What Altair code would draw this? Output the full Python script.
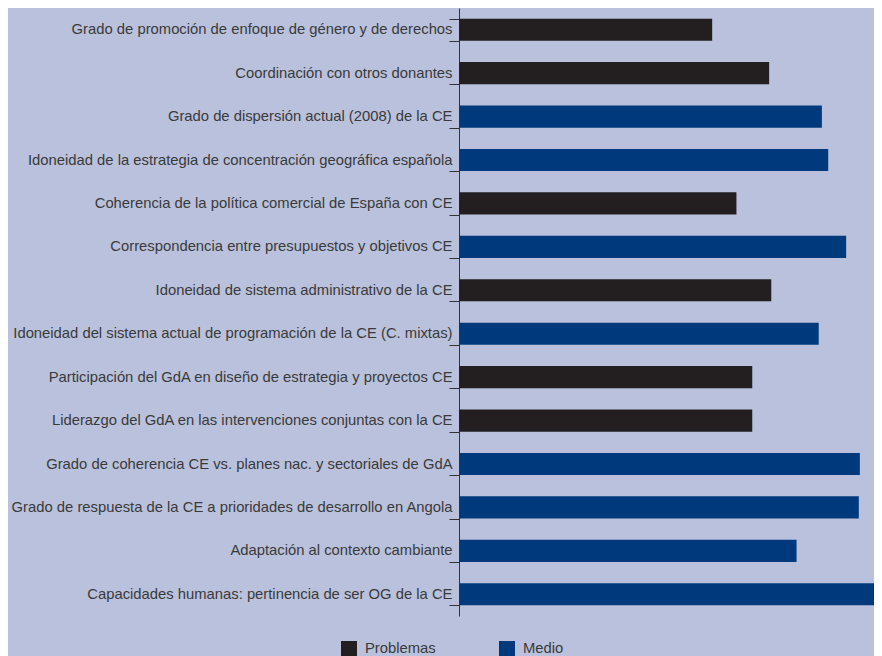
import altair as alt
import pandas as pd

categories = [
    "Grado de promoción de enfoque de género y de derechos",
    "Coordinación con otros donantes",
    "Grado de dispersión actual (2008) de la CE",
    "Idoneidad de la estrategia de concentración geográfica española",
    "Coherencia de la política comercial de España con CE",
    "Correspondencia entre presupuestos y objetivos CE",
    "Idoneidad de sistema administrativo de la CE",
    "Idoneidad del sistema actual de programación de la CE (C. mixtas)",
    "Participación del GdA en diseño de estrategia y proyectos CE",
    "Liderazgo del GdA en las intervenciones conjuntas con la CE",
    "Grado de coherencia CE vs. planes nac. y sectoriales de GdA",
    "Grado de respuesta de la CE a prioridades de desarrollo en Angola",
    "Adaptación al contexto cambiante",
    "Capacidades humanas: pertinencia de ser OG de la CE",
]
values = [2.40, 2.94, 3.44, 3.50, 2.63, 3.67, 2.96, 3.41, 2.78, 2.78, 3.80, 3.79, 3.20, 4.00]
groups = ["Problemas", "Problemas", "Medio", "Medio", "Problemas", "Medio", "Problemas",
          "Medio", "Problemas", "Problemas", "Medio", "Medio", "Medio", "Medio"]
legend_order = ["Problemas", "Medio"]
colors = ["#231f20", "#003a7d"]

df = pd.DataFrame({"cat": categories, "val": values, "grp": groups})

chart = alt.Chart(df).mark_bar(clip=True).encode(
    y=alt.Y("cat:N", sort=categories, title=None,
            scale=alt.Scale(paddingInner=0.49, paddingOuter=0.245),
            axis=alt.Axis(tickBand="extent", tickSize=10, tickColor="#333333",
                          domainColor="#333333", labelPadding=-3, labelFontSize=14.8,
                          labelColor="#3a3a3a", labelFont="Liberation Sans",
                          labelLimit=500)),
    x=alt.X("val:Q", title=None, axis=None, scale=alt.Scale(domain=[0, 3.934], nice=False)),
    color=alt.Color("grp:N", scale=alt.Scale(domain=legend_order, range=colors),
                    legend=alt.Legend(title=None, orient="none", direction="horizontal",
                                      legendX=-118, legendY=633, symbolType="square",
                                      symbolSize=256, symbolStrokeWidth=0,
                                      labelFontSize=14.8, labelColor="#3a3a3a",
                                      labelFont="Liberation Sans", labelOffset=8,
                                      columnPadding=63, padding=0)),
).properties(
    width=415, height=608,
    autosize=alt.AutoSizeParams(type="none"),
    padding={"left": 451, "top": 0, "right": 0, "bottom": 40},
).configure(background="#b9c1dc").configure_view(stroke=None)

chart.save("out.html", embed_options={"renderer": "svg", "actions": False})
